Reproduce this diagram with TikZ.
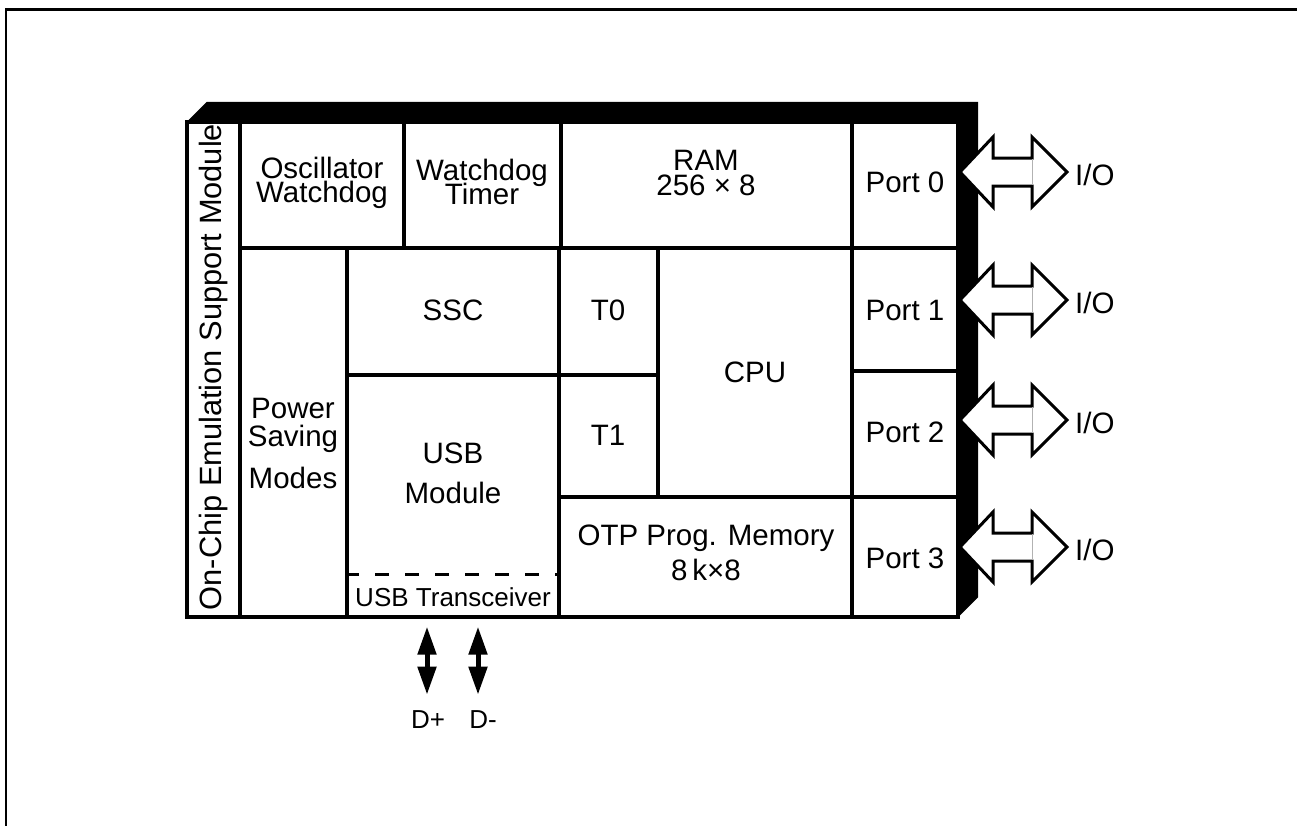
\documentclass[tikz,border=0pt]{standalone}
\usepackage{fontspec}
\setmainfont{Liberation Sans}
\usetikzlibrary{arrows.meta,calc}
\newcommand\cellfont{\fontsize{29.5}{25.5}\selectfont}
\newcommand\emufont{\fontsize{30.8}{30}\selectfont}
\newcommand\smallfont{\fontsize{26}{26}\selectfont}
\begin{document}
\begin{tikzpicture}[x=1pt,y=-1pt,
  cellbox/.style={draw, line width=3.3pt, inner sep=0pt},
  txt/.style={font=\cellfont, inner sep=0pt, anchor=base},
  smalltxt/.style={font=\smallfont, inner sep=0pt, anchor=base},
  bigarrow/.style={draw, fill=white, line width=3pt, line join=miter},
  darr/.style={line width=5pt, {Triangle[width=18pt,length=28pt]}-{Triangle[width=18pt,length=28pt]}},
  dashline/.style={line width=3pt, dash pattern=on 14pt off 16pt}]
\useasboundingbox (0,0) rectangle (1297,825);
% outer frame (only left and top edges visible)
\draw[line width=2.5pt] (6,840) -- (6,9.5) -- (1320,9.5);
% chip body and its bevelled shadow
\node[minimum width=771pt, minimum height=495pt, inner sep=0pt] (chip) at (572.5,369.5) {};
\fill (chip.north west) -- ([shift={(20,-20)}]chip.north west) -- ([shift={(20,-20)}]chip.north east)
   -- ([shift={(20,-20)}]chip.south east) -- (chip.south east) -- cycle;
\fill[white] (chip.south west) rectangle (chip.north east);
% cells
\newcommand\cell[5]{\node[cellbox, minimum width={#4-#2}, minimum height={#5-#3}] (#1) at ({(#2+#4)/2},{(#3+#5)/2}) {};}
\cell{emu}{187}{122}{240}{617}
\cell{osc}{240}{122}{404}{248}
\cell{wdt}{404}{122}{561}{248}
\cell{ram}{561}{122}{852}{248}
\cell{p0}{852}{122}{958}{248}
\cell{psm}{240}{248}{347}{617}
\cell{ssc}{347}{248}{559}{375}
\cell{t0}{559}{248}{658}{375}
\cell{t1}{559}{375}{658}{497}
\cell{cpu}{658}{248}{852}{497}
\cell{usb}{347}{375}{559}{617}
\cell{otp}{559}{497}{852}{617}
\cell{p1}{852}{248}{958}{371}
\cell{p2}{852}{371}{958}{497}
\cell{p3}{852}{497}{958}{617}
\draw[cellbox] (chip.south west) rectangle (chip.north east);
% dashed divider inside USB module
\draw[dashline] ($(usb.south west)+(0,-44)$) -- ($(usb.south east)+(0,-44)$);
% texts (placed by baseline)
\node[font=\emufont, inner sep=0pt, rotate=90] (temu) at (214,367) {On-Chip Emulation Support Module};
\node[txt] (tosc1) at (322,178) {Oscillator};
\node[txt] (tosc2) at (322,202) {Watchdog};
\node[txt] (twdt1) at (482,180) {Watchdog};
\node[txt] (twdt2) at (482,204) {Timer};
\node[txt] (tram1) at (706,170) {RAM};
\node[txt] (tram2) at (706,195) {256 × 8};
\node[txt] (tp0) at (905,192.5) {Port 0};
\node[txt] (tssc) at (453,320.5) {SSC};
\node[txt] (tt0) at (608,320.5) {T0};
\node[txt] (tt1) at (608,445.5) {T1};
\node[txt] (tcpu) at (755,382.5) {CPU};
\node[txt] (tpsm1) at (293,418) {Power};
\node[txt] (tpsm2) at (293,446) {Saving};
\node[txt] (tpsm3) at (293,488) {Modes};
\node[txt] (tusb1) at (453,463) {USB};
\node[txt] (tusb2) at (453,503) {Module};
\node[smalltxt] (ttrx) at (453,606) {USB Transceiver};
\node[txt] (totp) at (706,545.5) {OTP Prog. Memory};
\node[txt] (totp2) at (706,580.5) {8\,k×8};
\node[txt] (tp1) at (905,320.5) {Port 1};
\node[txt] (tp2) at (905,442.5) {Port 2};
\node[txt] (tp3) at (905,568.5) {Port 3};
% I/O block arrows
\foreach \i/\y in {0/172,1/300,2/420,3/547} {
  \coordinate (a\i) at (960,\y);
  \node[txt, anchor=base west] (io\i) at (1075,\y+13) {I/O};
  \draw[bigarrow] (a\i) -- ++(33,-35) -- ++(0,21) -- ++(39,0) -- ++(0,-21)
     -- ++(35,35) -- ++(-35,35) -- ++(0,-21) -- ++(-39,0) -- ++(0,21) -- cycle;
  \draw[gray!60, line width=0.6pt] ($(a\i)+(72,-13)$) -- ($(a\i)+(72,13)$);
}
% D+ / D- lines
\node[smalltxt] (dp) at (428,728) {D+};
\node[smalltxt] (dm) at (483,728) {D-};
\draw[darr] ($(usb.south)+(-26,8)$) -- ($(usb.south)+(-26,76)$);
\draw[darr] ($(usb.south)+(25,8)$) -- ($(usb.south)+(25,76)$);
\end{tikzpicture}
\end{document}
